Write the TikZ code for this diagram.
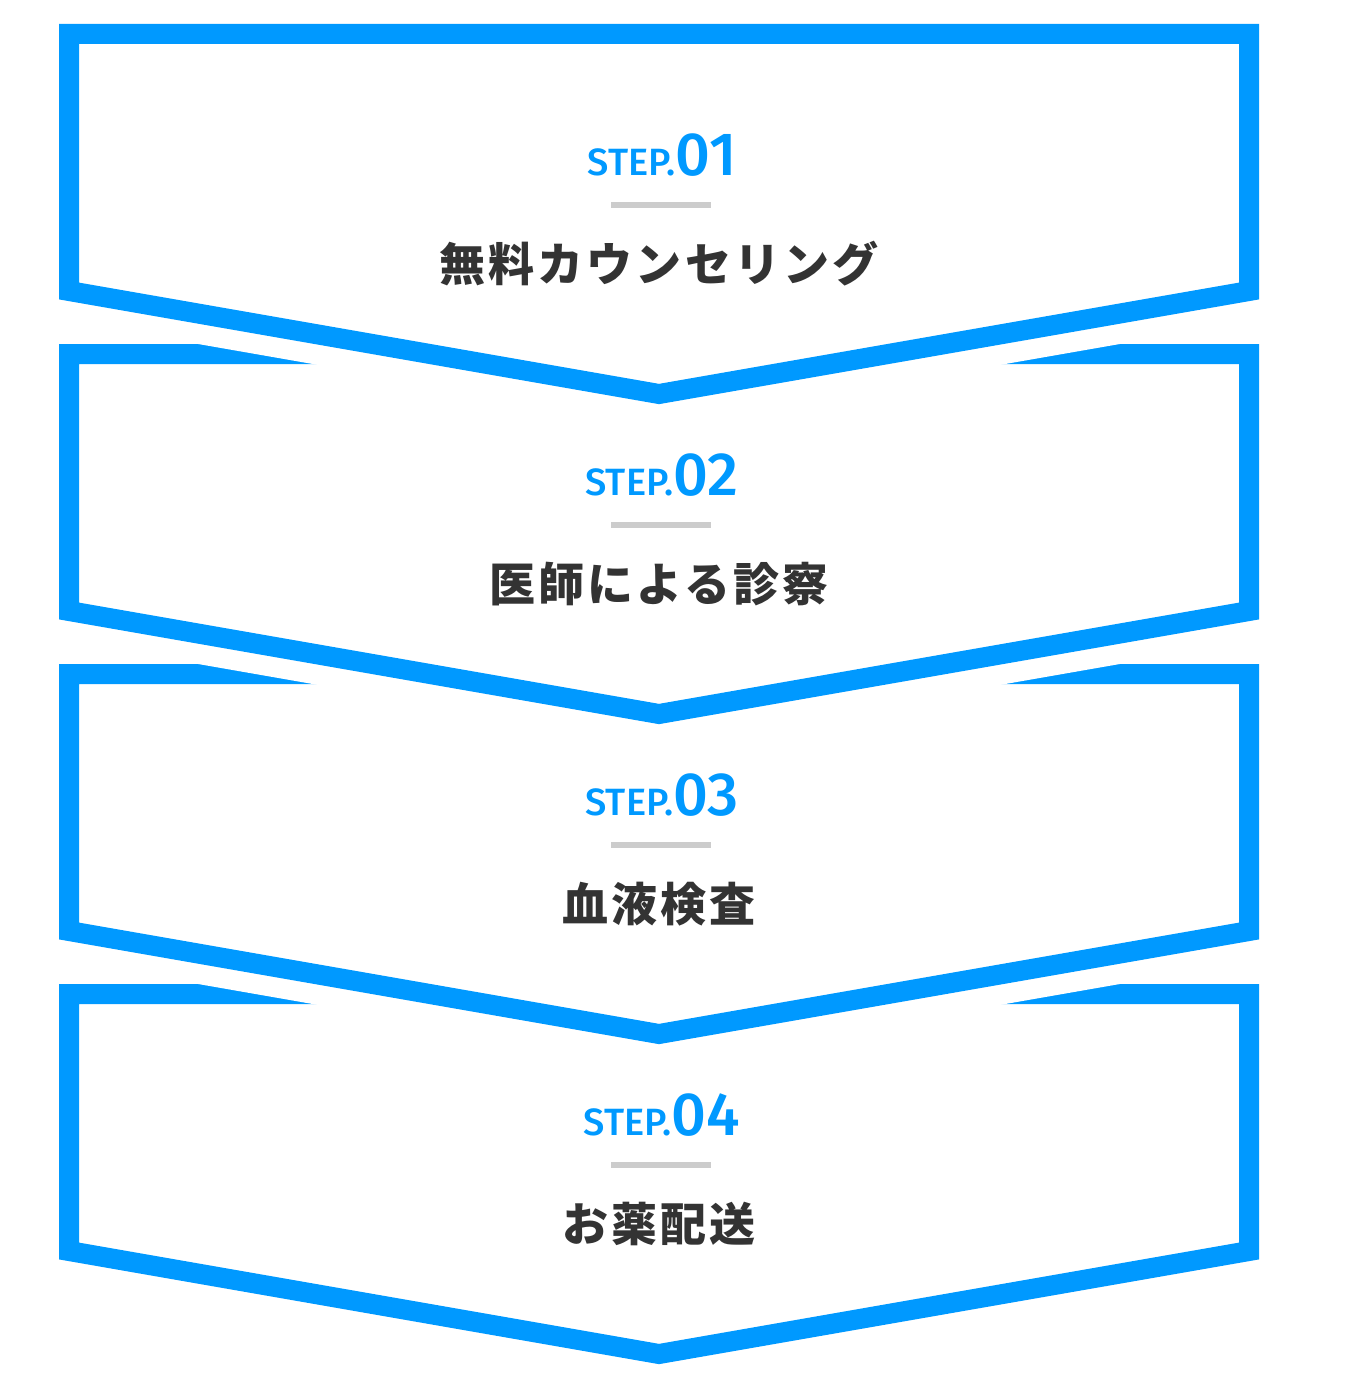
\documentclass[tikz,border=0pt]{standalone}
\usepackage{fontspec}
\newfontfamily\jpfont{Noto Sans CJK JP}[LetterSpace=7]
\newfontfamily\stepfont{Fira Sans}[UprightFont=* Medium]
\definecolor{stepblue}{HTML}{0099FF}
\definecolor{textgray}{HTML}{333333}
\definecolor{rulegray}{HTML}{CCCCCC}
\tikzset{
  halo/.style={draw=white, fill=white, line width=60pt, line join=miter},
  chevron/.style={draw=stepblue, line width=20pt, line join=miter},
  steplabel/.style={anchor=base, inner sep=0pt, text=stepblue, font=\stepfont},
  titlelabel/.style={anchor=center, inner sep=0pt, text=textgray, font=\jpfont\bfseries\fontsize{46}{46}\selectfont},
  steprule/.style={fill=rulegray, draw=none, minimum width=100pt, minimum height=6pt, inner sep=0pt}
}
\newcommand{\chevpath}[1]{(69,34+#1) -- (1249,34+#1) -- (1249,291+#1) -- (659,394+#1) -- (69,291+#1) -- cycle}
\begin{document}
\begin{tikzpicture}[x=1pt,y=-1pt]
\useasboundingbox[fill=white] (0,0) rectangle (1359,1381);
\foreach \k/\num/\title in {3/04/お薬配送, 2/03/血液検査, 1/02/医師による診察, 0/01/無料カウンセリング}{
  \pgfmathsetmacro{\d}{320*\k}
  \path[halo] \chevpath{\d};
  \path[chevron] \chevpath{\d};
  \node[steplabel] (step\num) at (662,175+\d) {\fontsize{38}{38}\selectfont STEP.\fontsize{61}{61}\selectfont\num};
  \node[steprule] (rule\num) at (661,205+\d) {};
  \node[titlelabel] (title\num) at (659,264+\d) {\title};
}
\end{tikzpicture}
\end{document}
